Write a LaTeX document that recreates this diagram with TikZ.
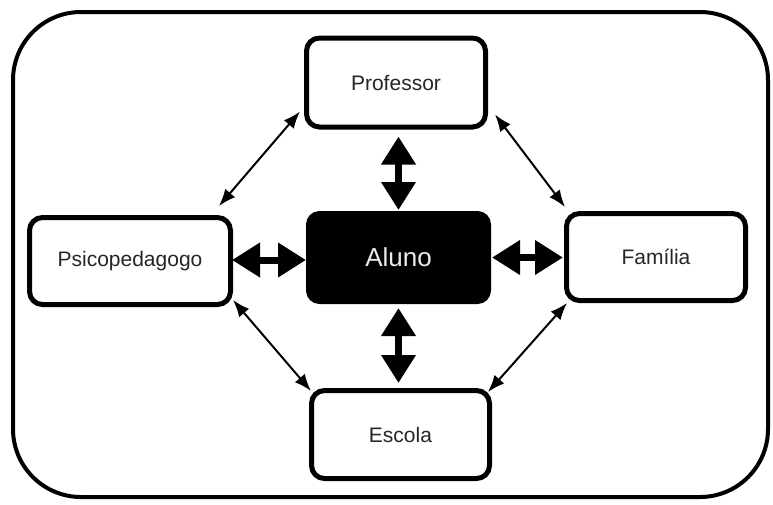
\documentclass[tikz,border=0pt]{standalone}
\usepackage{fontspec}
\setmainfont{Liberation Sans}
\usetikzlibrary{arrows.meta,calc}
\definecolor{txtgray}{HTML}{262626}
\tikzset{
  box/.style={draw=black, line width=5pt, rounded corners=13pt, fill=white,
    minimum width=179pt, minimum height=89pt, inner sep=0pt, text=txtgray,
    font=\fontsize{21}{25}\selectfont},
  centerbox/.style={draw=black, fill=black, line width=1pt, rounded corners=13pt,
    minimum width=184pt, minimum height=92pt, inner sep=0pt, text=white!92!black,
    font=\fontsize{26}{30}\selectfont},
  thin/.style={line width=2pt, {Latex[length=17pt,width=13pt]}-{Latex[length=17pt,width=13pt]}},
  thick/.style={line width=7pt, {Triangle[length=28pt,width=33pt]}-{Triangle[length=28pt,width=33pt]}},
  frame/.style={draw=black, line width=4pt, rounded corners=68pt}
}
\begin{document}
\begin{tikzpicture}[x=1pt,y=-1pt]
\useasboundingbox (0,0) rectangle (773,504);
\draw[frame] (13,12) rectangle (768,497);

\node[box] (prof) at (396,82.5) {Professor};
\node[box, minimum width=201pt, minimum height=87pt] (psico) at (130,261) {Psicopedagogo};
\node[box, minimum height=87pt] (fam) at (656,257) {Família};
\node[box, minimum width=178pt, minimum height=88pt] (esc) at (400.5,434.5) {Escola};
\node[centerbox] (aluno) at (398.5,257.5) {Aluno};

% thick arrows
\draw[thick] ($(aluno.north |- prof.south)+(0,7)$) -- ($(aluno.north)+(0,-1)$);
\draw[thick] ($(aluno.south)+(0,4)$) -- ($(aluno.south |- esc.north)+(0,-5)$);
\draw[thick] ($(psico.east)+(-1,-1)$) -- ($(aluno.west |- psico.east)+(0,-1)$);
\draw[thick] ($(aluno.east)+(1,0)$) -- ($(fam.west |- aluno.east)+(-1,0)$);

% thin diagonal arrows
\draw[thin] ($(prof.south west)+(-4,-18)$) -- ($(psico.north east)+(-14,-9)$);
\draw[thin] ($(prof.south east)+(7,-15)$) -- ($(fam.north west)+(1,-4)$);
\draw[thin] ($(psico.south east)+(0,-7)$) -- ($(esc.north west)+(2,3)$);
\draw[thin] ($(fam.south west)+(3,0)$) -- ($(esc.north east)+(-4,4)$);
\end{tikzpicture}
\end{document}
